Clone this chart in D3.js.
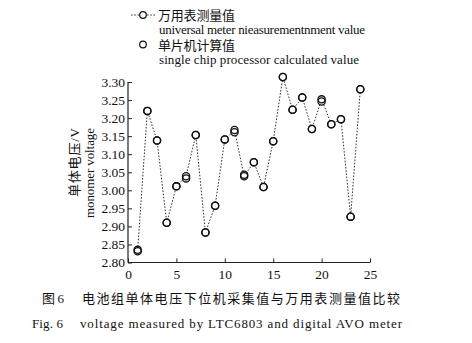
<!DOCTYPE html>
<html><head><meta charset="utf-8">
<script src="https://cdn.jsdelivr.net/npm/d3@7"></script>
<style>
body{margin:0;background:#fff;}
svg{display:block;}
text{font-family:"Liberation Serif","Noto Sans CJK SC",serif;fill:#111;}
</style></head>
<body>
<svg id="chart" width="472" height="343"></svg>
<script>
const cells = d3.range(1, 25);
const meterValues = [2.835,3.220,3.138,2.910,3.011,3.039,3.153,2.883,2.957,3.141,3.167,3.039,3.078,3.009,3.136,3.314,3.223,3.257,3.170,3.252,3.183,3.197,2.927,3.280];
const chipValues  = [2.831,3.220,3.138,2.910,3.011,3.033,3.153,2.883,2.957,3.141,3.161,3.043,3.078,3.009,3.136,3.314,3.223,3.257,3.170,3.246,3.183,3.197,2.927,3.280];
const xTicks = [0,5,10,15,20,25];
const yTicks = [2.80,2.85,2.90,2.95,3.00,3.05,3.10,3.15,3.20,3.25,3.30];
const legendCN = ["万用表测量值","单片机计算值"];
const legendEN = ["universal meter nieasurementnment value","single chip processor calculated value"];
const yLabelCN = "单体电压/V";
const yLabelEN = "monomer voltage";
const captionCNNum = "图 6";
const captionCN = "电池组单体电压下位机采集值与万用表测量值比较";
const captionENNum = "Fig. 6";
const captionEN = "voltage measured by LTC6803 and digital AVO meter";

const svg = d3.select("#chart");
const x = d3.scaleLinear().domain([0,25]).range([128,370]);
const y = d3.scaleLinear().domain([2.80,3.30]).range([262.5,82]);

// axes
const xAxis = d3.axisBottom(x).tickValues(xTicks).tickSizeInner(-4).tickSizeOuter(0).tickPadding(7).tickFormat(d3.format("d"));
const gx = svg.append("g").attr("transform",`translate(0,${y(2.80)})`).call(xAxis);
const yAxis = d3.axisLeft(y).tickValues(yTicks).tickSizeInner(-4).tickSizeOuter(0).tickPadding(3).tickFormat(d3.format(".2f"));
const gy = svg.append("g").attr("transform",`translate(${x(0)},0)`).call(yAxis);
[gx,gy].forEach(g=>{
  g.select(".domain").attr("stroke","#222").attr("stroke-width",1.2);
  g.selectAll(".tick line").attr("stroke","#222").attr("stroke-width",1);
  g.selectAll(".tick text").attr("font-family","Liberation Serif").attr("font-size",13.5).attr("fill","#111");
});
gy.select(".domain").attr("d",`M0,${y(2.80)}V${y(3.30)}`);
gx.select(".domain").attr("d",`M${x(0)},0H${x(25)}`);

// line series (meter)
const line = d3.line().x((d,i)=>x(cells[i])).y(d=>y(d));
svg.append("path").datum(meterValues).attr("d",line)
  .attr("fill","none").attr("stroke","#333").attr("stroke-width",1).attr("stroke-dasharray","1.6,1.6");
svg.append("g").selectAll("circle").data(meterValues).join("circle")
  .attr("cx",(d,i)=>x(cells[i])).attr("cy",d=>y(d)).attr("r",3.6)
  .attr("fill","#fff").attr("stroke","#111").attr("stroke-width",1.3);
svg.append("g").selectAll("circle").data(chipValues).join("circle")
  .attr("cx",(d,i)=>x(cells[i])).attr("cy",d=>y(d)).attr("r",3.6)
  .attr("fill","none").attr("stroke","#111").attr("stroke-width",1.3);

// legend
const lg = svg.append("g");
lg.append("line").attr("x1",131).attr("x2",156).attr("y1",15).attr("y2",15)
  .attr("stroke","#333").attr("stroke-dasharray","1.6,1.6");
lg.append("circle").attr("cx",143).attr("cy",15).attr("r",3.3).attr("fill","#fff").attr("stroke","#111").attr("stroke-width",1.2);
lg.append("circle").attr("cx",143).attr("cy",44.5).attr("r",3.3).attr("fill","none").attr("stroke","#111").attr("stroke-width",1.2);
lg.append("text").attr("x",158).attr("y",20).attr("font-size",13).attr("textLength",77).attr("lengthAdjust","spacing").text(legendCN[0]);
lg.append("text").attr("x",159).attr("y",34).attr("font-size",13).attr("textLength",206).attr("lengthAdjust","spacing").text(legendEN[0]);
lg.append("text").attr("x",158).attr("y",49.5).attr("font-size",13).attr("textLength",77).attr("lengthAdjust","spacing").text(legendCN[1]);
lg.append("text").attr("x",159).attr("y",64).attr("font-size",13).attr("textLength",200).attr("lengthAdjust","spacing").text(legendEN[1]);

// y labels
svg.append("text").attr("transform","translate(79,197) rotate(-90)").attr("font-size",13).attr("textLength",69).attr("lengthAdjust","spacing").text(yLabelCN);
svg.append("text").attr("transform","translate(93.5,218) rotate(-90)").attr("font-size",13).attr("textLength",90).attr("lengthAdjust","spacing").text(yLabelEN);

// captions
svg.append("text").attr("x",42).attr("y",303).attr("font-size",13).attr("textLength",22).attr("lengthAdjust","spacing").text(captionCNNum);
svg.append("text").attr("x",82).attr("y",303).attr("font-size",13).attr("textLength",318).attr("lengthAdjust","spacing").text(captionCN);
svg.append("text").attr("x",32).attr("y",328).attr("font-size",13).attr("textLength",31).attr("lengthAdjust","spacing").text(captionENNum);
svg.append("text").attr("x",80).attr("y",328).attr("font-size",13).attr("textLength",322).attr("lengthAdjust","spacing").text(captionEN);
</script>
</body></html>
